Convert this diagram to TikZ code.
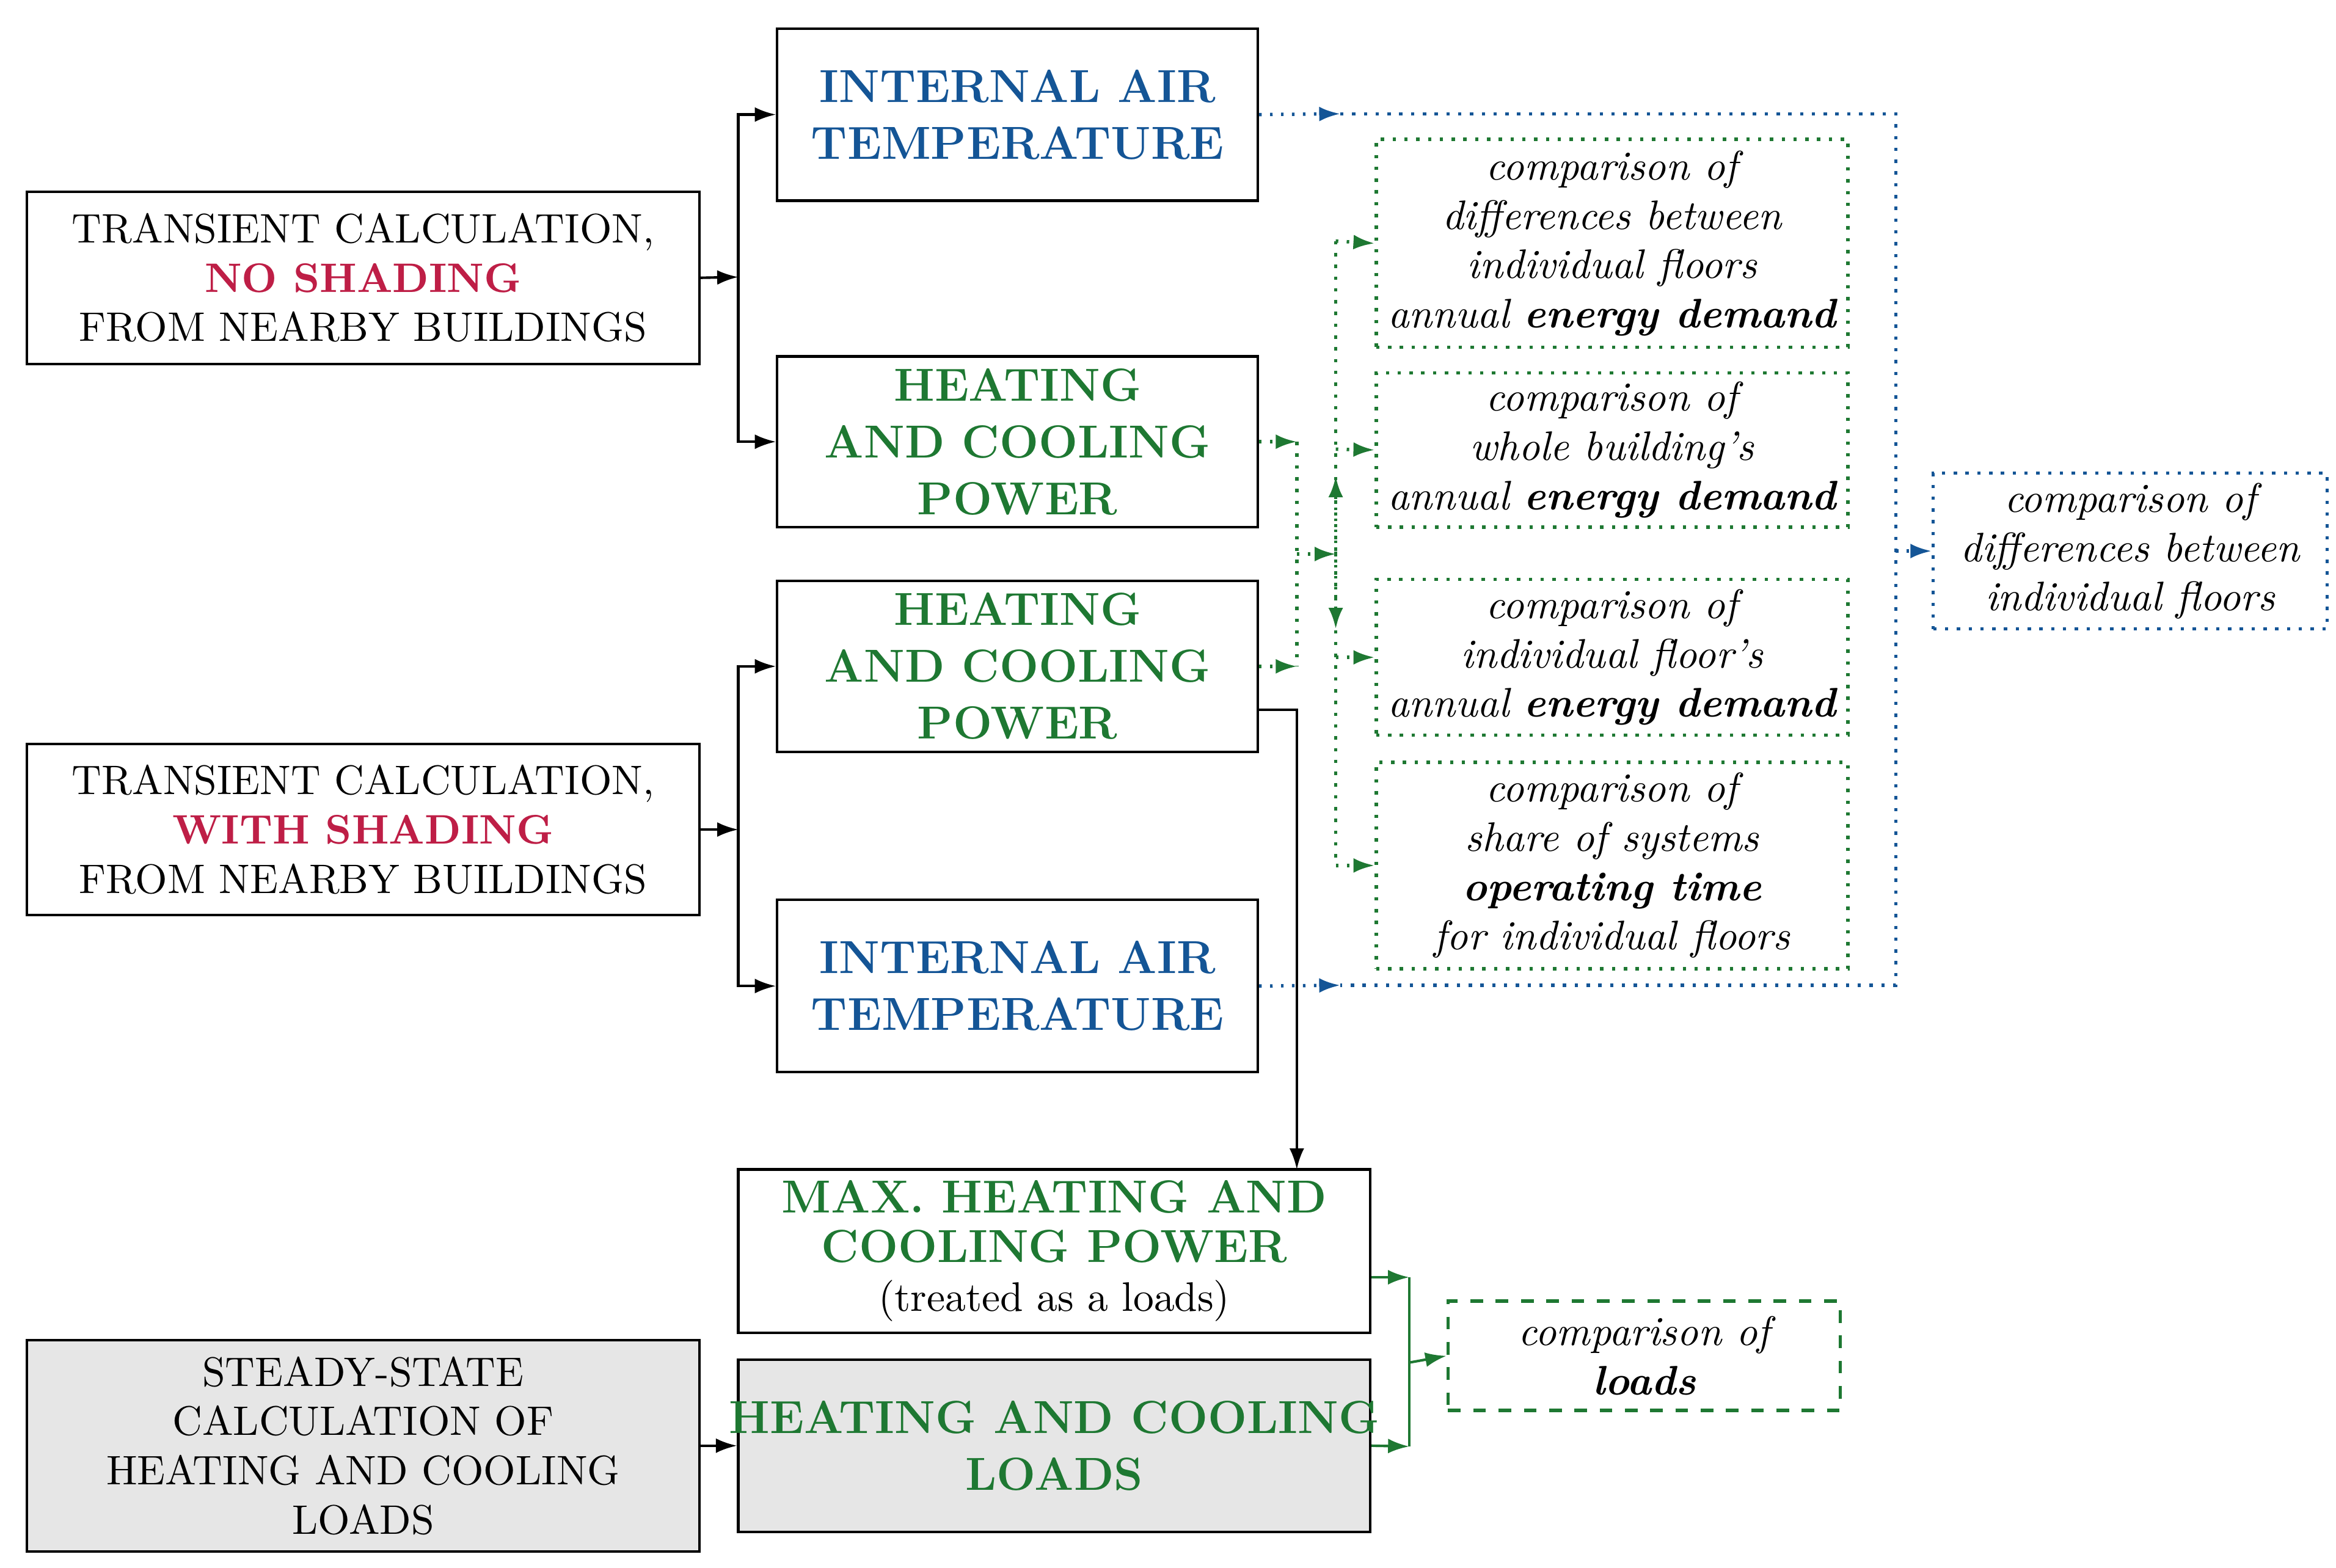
\documentclass[tikz,border=0pt]{standalone}
\usetikzlibrary{arrows.meta}
\definecolor{cb}{RGB}{20,85,150}
\definecolor{cg}{RGB}{30,120,50}
\definecolor{cr}{RGB}{190,30,70}
\definecolor{gr}{RGB}{230,230,230}
\begin{document}
\begin{tikzpicture}[x=0.125mm,y=-0.125mm,
 font=\fontsize{9.8}{11.7}\selectfont,
 box/.style={draw,line width=0.6pt,align=center,inner sep=0pt},
 gbox/.style={draw=cg,dotted,line width=0.8pt,align=center,inner sep=0pt,font=\fontsize{9.8}{11.7}\selectfont\itshape},
 ar/.style={-{Latex[length=5pt,width=3.5pt]},line width=0.6pt},
 ga/.style={ar,cg,dotted,line width=0.8pt},
 ba/.style={ar,cb,dotted,line width=0.8pt},
 mid/.style={postaction={decorate}}]
\useasboundingbox (0,0) rectangle (1560,1047);
\newcommand\bx[6]{\node[#6,minimum width={(#3-#1)*0.125mm},minimum height={(#4-#2)*0.125mm}] (#5) at ({(#1+#3)/2},{(#2+#4)/2}) {};}
\bx{18}{128}{467}{243}{t1}{box}
\node[align=center] at (t1) {TRANSIENT CALCULATION,\\\textcolor{cr}{\bfseries NO SHADING}\\FROM NEARBY BUILDINGS};
\bx{519}{19}{840}{134}{i1}{box}
\node[align=center,cb,font=\fontsize{11}{13.5}\selectfont\bfseries] at (i1) {INTERNAL AIR\\TEMPERATURE};
\bx{519}{238}{840}{352}{h1}{box}
\node[align=center,cg,font=\fontsize{11}{13.5}\selectfont\bfseries] at (h1) {HEATING\\AND COOLING\\POWER};
\bx{519}{388}{840}{502}{h2}{box}
\node[align=center,cg,font=\fontsize{11}{13.5}\selectfont\bfseries] at (h2) {HEATING\\AND COOLING\\POWER};
\bx{18}{497}{467}{611}{t2}{box}
\node[align=center] at (t2) {TRANSIENT CALCULATION,\\\textcolor{cr}{\bfseries WITH SHADING}\\FROM NEARBY BUILDINGS};
\bx{519}{601}{840}{716}{i2}{box}
\node[align=center,cb,font=\fontsize{11}{13.5}\selectfont\bfseries] at (i2) {INTERNAL AIR\\TEMPERATURE};
\bx{493}{781}{915}{890}{mx}{box}
\node[align=center] at (mx) {\textcolor{cg}{\fontsize{11}{13.5}\selectfont\bfseries MAX. HEATING AND}\\\textcolor{cg}{\fontsize{11}{13.5}\selectfont\bfseries COOLING POWER}\\(treated as a loads)};
\bx{18}{895}{467}{1036}{ss}{box,fill=gr}
\node[align=center] at (ss) {STEADY-STATE\\CALCULATION OF\\HEATING AND COOLING\\LOADS};
\bx{493}{908}{915}{1023}{hl}{box,fill=gr}
\node[align=center,cg,font=\fontsize{11}{13.5}\selectfont\bfseries] at (hl) {HEATING AND COOLING\\LOADS};
\bx{919}{93}{1234}{232}{g1}{gbox}
\node[align=center,font=\fontsize{9.8}{11.7}\selectfont\itshape] at (g1) {comparison of\\differences between\\individual floors\\annual \textbf{energy demand}};
\bx{919}{249}{1234}{352}{g2}{gbox}
\node[align=center,font=\fontsize{9.8}{11.7}\selectfont\itshape] at (g2) {comparison of\\whole building's\\annual \textbf{energy demand}};
\bx{919}{387}{1234}{491}{g3}{gbox}
\node[align=center,font=\fontsize{9.8}{11.7}\selectfont\itshape] at (g3) {comparison of\\individual floor's\\annual \textbf{energy demand}};
\bx{919}{509}{1234}{647}{g4}{gbox}
\node[align=center,font=\fontsize{9.8}{11.7}\selectfont\itshape] at (g4) {comparison of\\share of systems\\\textbf{operating time}\\for individual floors};
\bx{1291}{316}{1554}{420}{b}{gbox,draw=cb}
\node[align=center,font=\fontsize{9.8}{11.7}\selectfont\itshape] at (b) {comparison of\\differences between\\individual floors};
\bx{967}{869}{1229}{942}{l}{gbox,dashed}
\node[align=center,font=\fontsize{9.8}{11.7}\selectfont\itshape] at (l) {comparison of\\\textbf{loads}};
% black connectors
\coordinate (a1) at (493,185); \coordinate (a2) at (493,554);
\draw[ar] (t1.east) -- (a1);
\draw[ar] (a1) |- (i1.west); \draw[ar] (a1) |- (h1.west);
\draw[ar] (t2.east) -- (a2);
\draw[ar] (a2) |- (h2.west); \draw[ar] (a2) |- (i2.west);
\draw[ar] (ss.east) -- (hl.west);
\coordinate (c1) at (866,474);
\draw[ar] (840,474) -- (c1) -- (866,781);
% blue
\coordinate (bu) at (1266,76); \coordinate (bd) at (1266,658); \coordinate (bm) at (1266,368);
\draw[ba] (i1.east) -- (895,76);
\draw[cb,dotted,line width=0.8pt] (895,76) -- (bu) -- (bd) -- (895,658);
\draw[ba] (i2.east) -- (895,658);
\draw[ba] (bm) -- (b.west);
% green
\coordinate (gm) at (866,370);
\draw[ga] (h1.east) -- (866,295);
\draw[ga] (h2.east) -- (866,445);
\draw[cg,dotted,line width=0.8pt] (866,295) -- (866,445);
\draw[ga] (gm) -- (892,370);
\draw[cg,dotted,line width=0.8pt] (892,161) -- (892,578);
\draw[ga] (892,370) -- (892,318);
\draw[ga] (892,370) -- (892,420);
\draw[ga] (892,161) -- (g1.west);
\draw[ga] (892,300) -- (g2.west);
\draw[ga] (892,439) -- (g3.west);
\draw[ga] (892,578) -- (g4.west);
\coordinate (lm) at (941,910);
\draw[ar,cg] (mx.east|-0,853) -- (941,853);
\draw[ar,cg] (hl.east) -- (941,966);
\draw[cg,line width=0.6pt] (941,853) -- (941,966);
\draw[ar,cg] (lm) -- (l.west);
\end{tikzpicture}
\end{document}
